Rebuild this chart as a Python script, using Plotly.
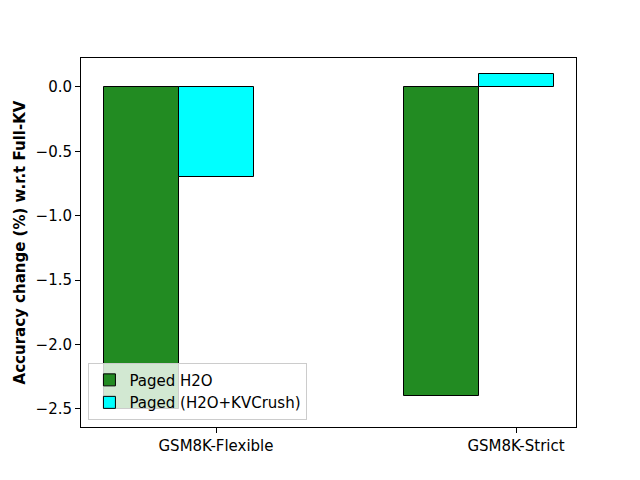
import plotly.graph_objects as go

categories = ["GSM8K-Flexible", "GSM8K-Strict"]
h2o = [-2.5, -2.4]
kvcrush = [-0.7, 0.1]
series_names = ["Paged H2O", "Paged (H2O+KVCrush)"]

bar_w = 0.25
pos = list(range(len(categories)))
tick_pos = [p + bar_w / 2 for p in pos]

fig = go.Figure()
fig.add_trace(go.Bar(x=pos, y=h2o, width=bar_w, offset=-bar_w, name=series_names[0],
                     marker=dict(color="#228B22", line=dict(color="black", width=1))))
fig.add_trace(go.Bar(x=pos, y=kvcrush, width=bar_w, offset=0, name=series_names[1],
                     marker=dict(color="#00FFFF", line=dict(color="black", width=1))))

fig.update_layout(
    width=640, height=480,
    margin=dict(l=73, r=72, t=50, b=61),
    plot_bgcolor="white", paper_bgcolor="white",
    font=dict(family="DejaVu Sans", size=15, color="black"),
    showlegend=True,
    legend=dict(x=0.015, y=0.02, xanchor="left", yanchor="bottom",
                bgcolor="rgba(255,255,255,0.8)", bordercolor="#cccccc", borderwidth=1,
                font=dict(size=15), tracegroupgap=0),
    bargap=0,
)
fig.update_xaxes(range=[-0.325, 1.325], tickmode="array", tickvals=tick_pos, ticktext=categories,
                 showline=True, linecolor="black", linewidth=1, mirror=True,
                 ticks="outside", ticklen=5, tickcolor="black", showgrid=False, zeroline=False,
                 tickfont=dict(size=15))
fig.update_yaxes(range=[-2.64, 0.225], tickmode="array",
                 tickvals=[0, -0.5, -1.0, -1.5, -2.0, -2.5],
                 ticktext=["0.0", "−0.5", "−1.0", "−1.5", "−2.0", "−2.5"],
                 title=dict(text="<b>Accuracy change (%) w.r.t Full-KV</b>", standoff=6,
                            font=dict(size=15)),
                 showline=True, linecolor="black", linewidth=1, mirror=True,
                 ticks="outside", ticklen=5, tickcolor="black", showgrid=False, zeroline=False,
                 tickfont=dict(size=15))

fig.write_html("out.html")
